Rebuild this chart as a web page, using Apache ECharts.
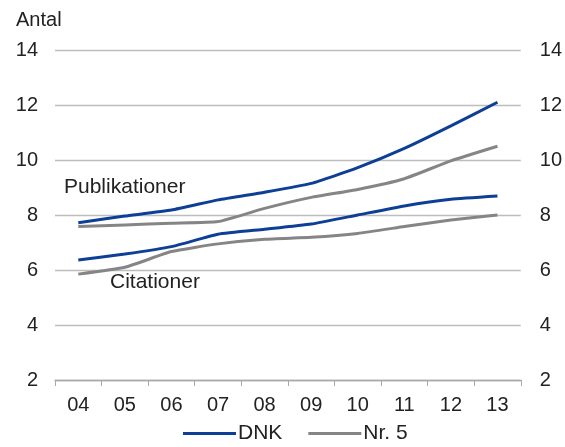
<!DOCTYPE html>
<html><head><meta charset="utf-8">
<script src="https://cdn.jsdelivr.net/npm/echarts@6/dist/echarts.min.js"></script>
<style>html,body{margin:0;padding:0;background:#fff}#c{width:565px;height:447px}</style>
</head><body><div id="c"></div>
<script>
const categories = ['04','05','06','07','08','09','10','11','12','13'];
const dnkPublikationer = [7.72,7.96,8.18,8.55,8.83,9.15,9.72,10.42,11.24,12.1];
const nr5Publikationer = [7.58,7.64,7.7,7.76,8.24,8.64,8.93,9.32,9.97,10.5];
const dnkCitationer = [6.36,6.58,6.85,7.3,7.48,7.67,8.0,8.33,8.57,8.69];
const nr5Citationer = [5.85,6.1,6.67,6.95,7.12,7.19,7.33,7.58,7.82,8.0];
const yTicks = {min:2, max:14, interval:2};
const blue = '#0e3f96', gray = '#858585';
const font = 'Liberation Sans, Arial, sans-serif';
const chart = echarts.init(document.getElementById('c'));
function yAxis(pos){
  return {type:'value', position:pos, min:yTicks.min, max:yTicks.max, interval:yTicks.interval,
    axisLine:{show:false}, axisTick:{show:false},
    axisLabel:{color:'#222', fontSize:20, fontFamily:font, margin: pos==='left'?17:19},
    splitLine:{show: pos==='left', lineStyle:{color:'#bdbdbd', width:1.3}}};
}
function ser(name, data, color){
  return {type:'line', name, data, symbol:'none', smooth:0.15, yAxisIndex:0,
    lineStyle:{color, width:3}, itemStyle:{color}};
}
chart.setOption({
  animation:false,
  grid:{left:55, right:44, top:50, bottom:67},
  xAxis:{type:'category', data:categories, boundaryGap:true,
    axisLine:{lineStyle:{color:'#a8a8a8', width:1.3}},
    axisTick:{show:true, length:6, lineStyle:{color:'#a8a8a8'}},
    axisLabel:{color:'#222', fontSize:20, fontFamily:font, margin:15}},
  yAxis:[yAxis('left'), yAxis('right')],
  legend:{data:['DNK','Nr. 5'], bottom:-2, left:178, itemWidth:53, itemHeight:3, itemGap:26,
    icon:'rect',
    textStyle:{color:'#222', fontSize:21, fontFamily:font, padding:[0,0,0,-3]}},
  series:[
    ser('DNK', dnkPublikationer, blue),
    ser('Nr. 5', nr5Publikationer, gray),
    ser('DNK', dnkCitationer, blue),
    ser('Nr. 5', nr5Citationer, gray)
  ],
  graphic:[
    {type:'text', left:16, top:10, style:{text:'Antal', fill:'#222', font:'20px '+font}},
    {type:'text', left:64, top:177, style:{text:'Publikationer', fill:'#222', font:'21px '+font}},
    {type:'text', left:110, top:272, style:{text:'Citationer', fill:'#222', font:'21px '+font}}
  ]
});
</script></body></html>
